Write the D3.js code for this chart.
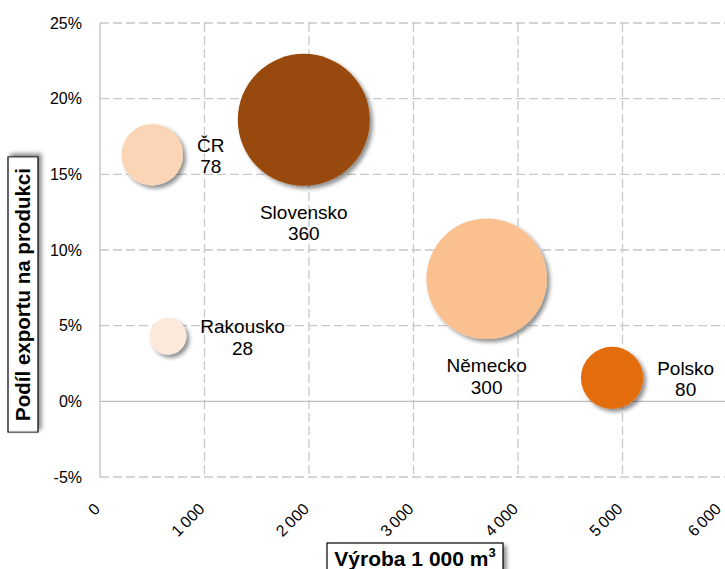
<!DOCTYPE html>
<html lang="cs">
<head>
<meta charset="UTF-8">
<title>Výroba a podíl exportu</title>
<script src="https://d3js.org/d3.v7.min.js"></script>
<style>
    body { margin: 0; background: #fff; }
    text { font-family: "Liberation Sans", Arial, sans-serif; fill: #000; }
    .grid line { stroke: #c8c8c8; stroke-dasharray: 9 4; stroke-width: 1.3; }
    .tick-label { font-size: 16px; }
    .bubble-label { font-size: 19px; }
</style>
</head>
<body>
<svg width="725" height="569"></svg>
<script>
// data
const countries = ['ČR', 'Slovensko', 'Rakousko', 'Německo', 'Polsko'];
const production = [500, 1950, 650, 3700, 4900];      // Výroba 1 000 m3
const exportShare = [16.3, 18.6, 4.3, 8.1, 1.55];      // % exportu na produkci
const bubbleSize = [78, 360, 28, 300, 80];
const colors = ['#fbd5b5', '#984807', '#fde9d9', '#fac090', '#e36c09'];
const labelSide = ['right', 'below', 'right', 'below', 'right'];
const xTicks = [0, 1000, 2000, 3000, 4000, 5000, 6000];
const yTicks = [-5, 0, 5, 10, 15, 20, 25];

const svg = d3.select('svg');
const plotL = 100, plotR = 727, plotT = 23, plotB = 477;

const x = d3.scaleLinear().domain([0, 6000]).range([plotL, plotR]);
const y = d3.scaleLinear().domain([-5, 25]).range([plotB, plotT]);
const r = d3.scaleSqrt().domain([0, 360]).range([0, 66]);

const fmt = d => d3.format(',')(d).replace(/,/g, '\u2009');

// shadow filter
const defs = svg.append('defs');
const f = defs.append('filter').attr('id', 'shadow')
    .attr('x', '-30%').attr('y', '-30%').attr('width', '160%').attr('height', '160%');
f.append('feGaussianBlur').attr('in', 'SourceAlpha').attr('stdDeviation', 2.2);
f.append('feOffset').attr('dx', 3).attr('dy', 3).attr('result', 'ob');
f.append('feComponentTransfer').append('feFuncA').attr('type', 'linear').attr('slope', 0.45);
const m = f.append('feMerge');
m.append('feMergeNode');
m.append('feMergeNode').attr('in', 'SourceGraphic');

// gridlines
const grid = svg.append('g').attr('class', 'grid');
grid.selectAll('.hg').data(yTicks.filter(d => d !== 0)).enter().append('line')
    .attr('x1', plotL).attr('x2', plotR)
    .attr('y1', d => y(d)).attr('y2', d => y(d));
grid.selectAll('.vg').data(xTicks.filter(d => d !== 0)).enter().append('line')
    .attr('x1', d => x(d)).attr('x2', d => x(d))
    .attr('y1', plotT).attr('y2', plotB);

// solid axes
svg.append('line').attr('x1', x(0)).attr('x2', x(0)).attr('y1', plotT).attr('y2', plotB)
    .attr('stroke', '#bfbfbf').attr('stroke-width', 1.3);
svg.append('line').attr('x1', plotL).attr('x2', plotR).attr('y1', y(0)).attr('y2', y(0))
    .attr('stroke', '#bfbfbf').attr('stroke-width', 1.3);

// y tick labels
svg.selectAll('.ylab').data(yTicks).enter().append('text')
    .attr('class', 'tick-label')
    .attr('x', 82).attr('y', d => y(d)).attr('dy', '0.35em')
    .attr('text-anchor', 'end')
    .text(d => d + '%');

// x tick labels, rotated
svg.selectAll('.xlab').data(xTicks).enter().append('text')
    .attr('class', 'tick-label')
    .attr('text-anchor', 'end')
    .attr('transform', d => `translate(${Math.min(x(d) + 1, 722)},${plotB + 33}) rotate(-45)`)
    .text(fmt);

// bubbles
const idx = d3.range(countries.length);
svg.selectAll('.bubble').data(idx).enter().append('circle')
    .attr('cx', i => x(production[i]))
    .attr('cy', i => y(exportShare[i]))
    .attr('r', i => r(bubbleSize[i]))
    .attr('fill', i => colors[i])
    .attr('filter', 'url(#shadow)');

// bubble labels
idx.forEach(i => {
    const cx = x(production[i]), cy = y(exportShare[i]), rr = r(bubbleSize[i]);
    const t = svg.append('text').attr('class', 'bubble-label').attr('text-anchor', 'middle');
    const l1 = t.append('tspan').text(countries[i]);
    const l2 = t.append('tspan').text(bubbleSize[i]);
    let tx, ty;
    if (labelSide[i] === 'right') {
        const w = l1.node().getComputedTextLength();
        tx = cx + rr + 14 + w / 2;
        ty = cy - 3;
    } else {
        tx = cx;
        ty = cy + rr + 33;
    }
    l1.attr('x', tx).attr('y', ty);
    l2.attr('x', tx).attr('y', ty + 21.5);
});

// axis titles in boxes
function boxedTitle(cx, cy, w, h, rotate) {
    const g = svg.append('g').attr('transform', `translate(${cx},${cy}) rotate(${rotate})`);
    g.append('rect').attr('x', -w / 2).attr('y', -h / 2).attr('width', w).attr('height', h)
        .attr('fill', '#fff').attr('stroke', '#000').attr('stroke-width', 1.2)
        .attr('filter', 'url(#shadow)');
    return g.append('text').attr('text-anchor', 'middle').attr('dy', '0.36em')
        .attr('font-weight', 'bold');
}
boxedTitle(23, 294.5, 275, 30, -90).attr('font-size', 20.5).text('Podíl exportu na produkci');
const xt = boxedTitle(415, 558, 176, 30, 0).attr('font-size', 21).attr('dy', '0.4em');
xt.append('tspan').text('Výroba 1 000 m');
xt.append('tspan').attr('font-size', 13).attr('dy', '-0.7em').text('3');
</script>
</body>
</html>
